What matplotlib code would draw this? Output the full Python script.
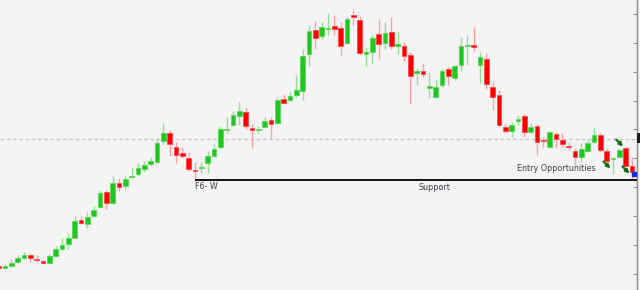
import matplotlib
matplotlib.use('Agg')
import matplotlib.pyplot as plt
from matplotlib.patches import Rectangle

# OHLC values (arbitrary price units)
opens = [24, 22, 24, 28, 32, 35, 31, 29, 27, 34, 41, 46, 52, 70, 66, 74, 83, 98, 87, 107,
         104, 113, 116, 121, 126, 128, 149, 157, 143, 137, 132, 120, 122, 127, 134, 143, 160, 165, 174, 178,
         162, 160, 163, 170, 167, 191, 190, 195, 199, 236, 260, 254, 261, 264, 262, 247, 275, 270, 236, 238,
         256, 247, 258, 244, 244, 235, 217, 219, 202, 193, 205, 221, 212, 225, 244, 245, 225, 231, 203, 195,
         163, 159, 169, 174, 158, 164, 150, 143, 156, 150, 144, 139, 133, 139, 148, 155, 139, 131, 133, 142, 124]
highs = [25, 26, 31, 35, 38, 36, 35, 30, 36, 44, 52, 57, 74, 74, 78, 84, 100, 100, 114, 112,
         114, 123, 127, 129, 133, 152, 167, 160, 148, 143, 138, 128, 128, 139, 146, 164, 173, 179, 188, 182,
         166, 164, 173, 173, 193, 196, 198, 215, 241, 265, 269, 268, 277, 275, 268, 273, 281, 274, 243, 255,
         271, 268, 273, 259, 248, 238, 222, 227, 218, 211, 221, 223, 225, 253, 255, 263, 238, 237, 209, 200,
         167, 168, 175, 176, 167, 166, 153, 158, 158, 157, 148, 142, 147, 150, 163, 157, 142, 133, 142, 143, 133]
lows = [21, 21, 23, 27, 31, 28, 28, 26, 26, 33, 40, 41, 52, 66, 62, 73, 82, 81, 86, 99,
        101, 112, 114, 118, 124, 127, 146, 134, 127, 132, 119, 110, 117, 117, 133, 141, 157, 164, 165, 161,
        142, 157, 162, 151, 166, 186, 189, 193, 190, 224, 241, 251, 255, 255, 235, 246, 265, 235, 224, 226,
        231, 241, 241, 236, 229, 186, 205, 213, 192, 192, 203, 205, 210, 219, 225, 239, 207, 201, 180, 163,
        157, 153, 165, 153, 157, 135, 143, 143, 142, 143, 140, 125, 128, 138, 147, 138, 127, 116, 133, 124, 111]
closes = [22, 24, 27, 32, 35, 32, 30, 27, 34, 41, 45, 52, 69, 67, 73, 80, 97, 87, 107, 103,
          111, 114, 122, 125, 129, 147, 157, 146, 135, 134, 121, 119, 123, 134, 141, 161, 161, 175, 179, 164,
          160, 161, 169, 166, 190, 187, 194, 200, 234, 259, 252, 263, 262, 261, 244, 271, 273, 237, 238, 252,
          246, 257, 244, 246, 234, 214, 219, 216, 204, 203, 219, 214, 224, 244, 245, 243, 233, 206, 193, 165,
          159, 165, 171, 158, 163, 148, 149, 158, 151, 146, 143, 133, 141, 147, 155, 140, 129, 132, 140, 124, 118]

tick_levels = [16, 45, 74, 103, 131.7, 160.7, 189.3, 218.3, 247.3, 276]
ref_level = 151          # dashed grey line
support_level = 110.5    # support line
support_start = 31       # candle index where support line starts
signal_idx = [96, 98, 99]
signal_level = [125, 147, 120]
last_marker = 116.5

labels = {
    'f6': 'F6- W',
    'support': 'Support',
    'entry': 'Entry Opportunities',
}

BG = '#f4f4f4'
G_BODY, G_EDGE, G_WICK = '#1fc71f', '#5ad65a', '#93df93'
R_BODY, R_EDGE, R_WICK = '#ff0000', '#ff4a4a', '#ff9f9f'
TXT = '#3a3f48'

fig = plt.figure(figsize=(6.4, 2.9), dpi=100, facecolor=BG)
ax = fig.add_axes([0, 0, 637 / 640, 1])
ax.set_facecolor(BG)
ax.set_xlim(0.21, 100.79)
ax.set_ylim(0, 290)

n = len(opens)
for i in range(n):
    o, h, l, c = opens[i], highs[i], lows[i], closes[i]
    up = c >= o
    wick = G_WICK if up else R_WICK
    body = G_BODY if up else R_BODY
    edge = G_EDGE if up else R_EDGE
    ax.vlines(i, l, h, color=wick, lw=1.0, zorder=2)
    bottom = min(o, c)
    height = max(abs(c - o), 1.2)
    ax.add_patch(Rectangle((i - 0.38, bottom), 0.76, height, facecolor=body,
                           edgecolor=edge, lw=0.6, zorder=3))

# dashed grey reference line
ax.axhline(ref_level, color='#c4c4c4', lw=0.9, ls=(0, (3, 2)), zorder=1)

# support line
ax.hlines(support_level, support_start, 100.79, color='black', lw=1.3, zorder=4)

# signals
for idx, lv in zip(signal_idx, signal_level):
    ax.annotate('', xy=(idx + 0.6, lv - 3.5), xytext=(idx - 0.5, lv + 3.5),
                arrowprops=dict(arrowstyle='-|>', color='#0d700d', lw=1.6,
                                mutation_scale=5, shrinkA=0, shrinkB=0), zorder=6)
ax.plot([n - 1 + 0.25], [last_marker], marker='s', ms=2.2, color='#1030e0', zorder=7,
        clip_on=False)

# texts
ax.text(support_start + 0.05, support_level - 2.5, labels['f6'], fontsize=5.8,
        color=TXT, ha='left', va='top')
ax.text(68.8, support_level - 3, labels['support'], fontsize=5.8,
        color=TXT, ha='center', va='top')
ax.text(81.9, 117, labels['entry'], fontsize=5.8,
        color=TXT, ha='left', va='bottom')

# right axis
for s in ['left', 'top', 'bottom']:
    ax.spines[s].set_visible(False)
ax.spines['right'].set_color('#8a8a8a')
ax.spines['right'].set_linewidth(1.0)
ax.set_xticks([])
ax.yaxis.tick_right()
ax.set_yticks(tick_levels)
ax.tick_params(axis='y', direction='in', length=3, color='#8a8a8a', labelright=False)

# current price marker on the axis
ax.add_patch(Rectangle((1.0, 147 / 290), 0.006, 10 / 290, transform=ax.transAxes,
                       facecolor='#1a1a1a', edgecolor='none', clip_on=False, zorder=8))

fig.savefig('out.png', dpi=100, facecolor=BG)
